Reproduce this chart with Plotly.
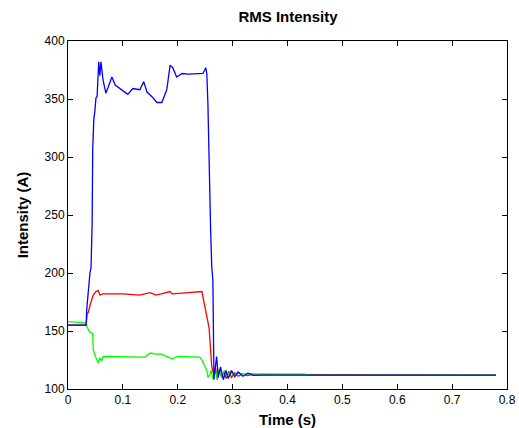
import plotly.graph_objects as go

# ---- data ----
t_blue = [0, 0.033, 0.034, 0.037, 0.040, 0.042, 0.044, 0.045, 0.046, 0.047, 0.049, 0.051, 0.053,
          0.056, 0.058, 0.060, 0.064, 0.069, 0.073, 0.080, 0.086, 0.095, 0.109, 0.118, 0.131,
          0.138, 0.144, 0.153, 0.162, 0.171, 0.180, 0.186, 0.191, 0.198, 0.208, 0.219, 0.246,
          0.251, 0.253, 0.255, 0.257, 0.259, 0.260, 0.262, 0.264, 0.266, 0.2708, 0.2738, 0.278,
          0.283, 0.2878, 0.292, 0.298, 0.304, 0.310, 0.319, 0.328, 0.3375, 0.35, 0.78]
i_blue = [155, 155, 168, 185, 200, 205, 243, 306, 323, 332, 340, 351, 352,
          382, 370, 382, 366, 355, 360, 369, 362, 359, 354, 359, 358,
          365, 356, 352, 347, 347, 358, 379, 377, 369, 372, 371.5, 372,
          377, 372, 345, 290, 240, 235, 205, 194, 108, 128, 110, 119,
          108, 116, 109, 116, 110.5, 114.6, 111, 113.7, 111.8, 112, 112]

t_red = [0, 0.033, 0.035, 0.037, 0.040, 0.042, 0.046, 0.051, 0.055, 0.058, 0.064, 0.10, 0.13,
         0.15, 0.16, 0.17, 0.186, 0.19, 0.21, 0.22, 0.244, 0.246, 0.250, 0.253, 0.255, 0.257,
         0.259, 0.262, 0.266, 0.269, 0.272, 0.276, 0.280, 0.284, 0.288, 0.293, 0.298, 0.304,
         0.310, 0.318, 0.327, 0.335, 0.78]
i_red = [155, 155, 165, 166, 172, 175, 181, 184, 185, 181, 182, 182, 181,
         183, 181, 182, 184, 182, 183, 183, 184, 179, 171, 160, 158, 153,
         140, 119, 112, 118, 108, 117, 110, 115, 109, 115, 110, 114,
         111, 113, 111.5, 112.5, 112]

t_green = [0, 0.033, 0.035, 0.040, 0.045, 0.046, 0.050, 0.055, 0.058, 0.061, 0.064, 0.10, 0.14,
           0.150, 0.160, 0.170, 0.180, 0.190, 0.200, 0.240, 0.244, 0.250, 0.253, 0.255, 0.258,
           0.261, 0.264, 0.268, 0.272, 0.276, 0.280, 0.285, 0.29, 0.296, 0.302, 0.31, 0.32,
           0.33, 0.34, 0.43, 0.44, 0.78]
i_green = [158, 157, 153, 149, 148, 134, 128, 122.5, 127, 124, 128, 128, 127.5,
           131, 130, 130, 128, 126, 128, 127.5, 125, 119, 116, 110, 112,
           116, 109, 118, 109, 117, 110, 116, 111, 115, 112, 114, 112.5,
           113.5, 112.8, 112.8, 112, 112]

x_ticks = [0, 0.1, 0.2, 0.3, 0.4, 0.5, 0.6, 0.7, 0.8]
x_tick_labels = ["0", "0.1", "0.2", "0.3", "0.4", "0.5", "0.6", "0.7", "0.8"]
y_ticks = [100, 150, 200, 250, 300, 350, 400]
y_tick_labels = ["100", "150", "200", "250", "300", "350", "400"]

FONT = "Liberation Sans, Arial, Helvetica"

fig = go.Figure()
for tx, iy, col in [(t_red, i_red, "#FF0000"), (t_green, i_green, "#00FF00"), (t_blue, i_blue, "#0000FF")]:
    fig.add_trace(go.Scatter(x=tx, y=iy, mode="lines", line=dict(color=col, width=1.3),
                             showlegend=False, hoverinfo="skip"))

axis_common = dict(showgrid=False, zeroline=False, showline=True, linecolor="black", linewidth=1,
                   mirror="ticks", ticks="inside", ticklen=5, tickcolor="black", tickwidth=1,
                   automargin=False,
                   tickfont=dict(family=FONT, size=12, color="black"))

fig.update_layout(
    width=519, height=428,
    margin=dict(l=68, r=12, t=41, b=39),
    paper_bgcolor="white", plot_bgcolor="white",
    title=dict(text="<b>RMS Intensity</b>", x=288 / 519, xanchor="center",
               y=1 - 17 / 428, yanchor="middle",
               font=dict(family=FONT, size=15, color="black")),
    xaxis=dict(range=[0, 0.8], tickvals=x_ticks, ticktext=x_tick_labels,
               title=dict(text="<b>Time (s)</b>", standoff=8,
                          font=dict(family=FONT, size=15, color="black")),
               **axis_common),
    yaxis=dict(range=[100, 400], tickvals=y_ticks, ticktext=y_tick_labels,
               title=dict(text="<b>Intensity (A)</b>", standoff=12,
                          font=dict(family=FONT, size=15, color="black")),
               **axis_common),
)

fig.write_html("out.html", config={"displayModeBar": False},
               post_script="document.body.style.margin='0';document.body.style.overflow='hidden';")
